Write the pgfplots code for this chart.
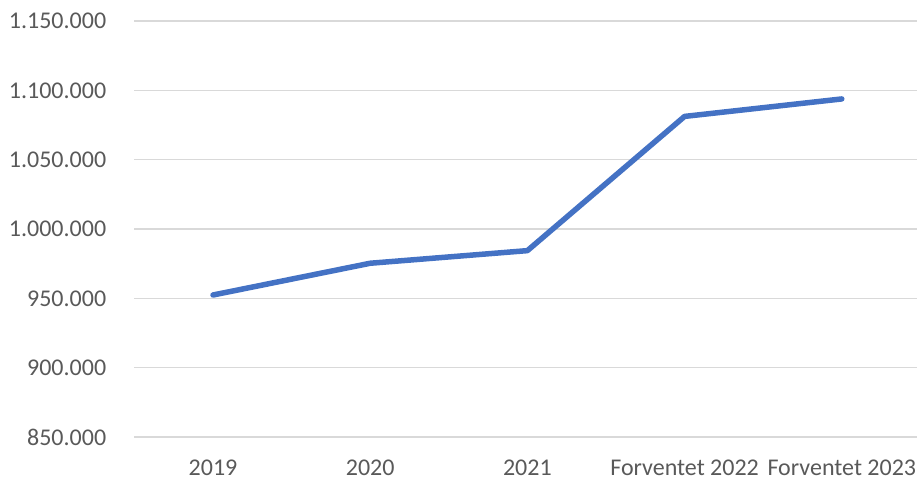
\documentclass[border=0pt]{standalone}
\usepackage{pgfplots}
\pgfplotsset{compat=1.18}
\usepackage{fontspec}
\setmainfont{Carlito}
\definecolor{lineblue}{HTML}{4472C4}
\definecolor{gridgray}{HTML}{D9D9D9}
\definecolor{labelgray}{HTML}{595959}
\begin{document}
\begin{tikzpicture}
  \begin{axis}[
      name=ax,
      scale only axis,
      width=786bp, height=416bp,
      xmin=-0.5, xmax=4.5,
      ymin=850000, ymax=1150000,
      ytick={850000,900000,950000,1000000,1050000,1100000,1150000},
      scaled y ticks=false,
      xtick=data,
      xticklabels={2019,2020,2021,Forventet 2022,Forventet 2023},
      ymajorgrids,
      grid style={gridgray, line width=1.2bp},
      axis line style={draw=none},
      major tick length=0pt,
      tick style={draw=none},
      font=\fontsize{24bp}{28bp}\selectfont,
      tick label style={text=labelgray},
      yticklabel style={anchor=east, inner sep=0pt, xshift=-28bp},
      xticklabel style={anchor=base, inner sep=0pt, yshift=-38bp},
      /pgf/number format/.cd, fixed, precision=0, 1000 sep={.}, assume math mode=true,
    ]
    \addplot[lineblue, line width=5.5bp, line cap=round, line join=round]
    coordinates{ (0, 952400) (1, 975300) (2, 984400) (3, 1081200) (4, 1093800) };
  \end{axis}
  \pgfresetboundingbox
  \path ([xshift=-134.4bp, yshift=-46bp]ax.south west) rectangle ([xshift=782.6bp, yshift=21bp]ax.north west);
\end{tikzpicture}
\end{document}
